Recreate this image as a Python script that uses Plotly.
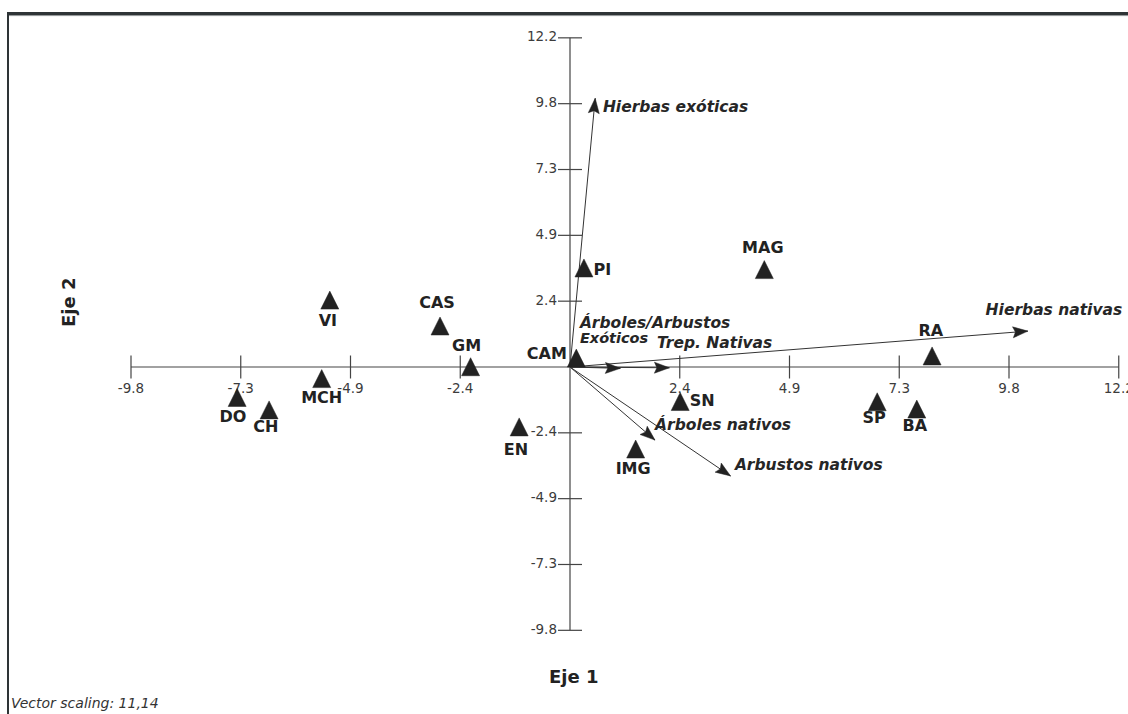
import math
import plotly.graph_objects as go

# ---------------- data ----------------
sample_names = ["PI", "MAG", "VI", "CAS", "GM", "CAM", "RA", "MCH", "DO", "CH",
                "EN", "IMG", "SN", "SP", "BA"]
sample_x = [0.31, 4.32, -5.34, -2.89, -2.21, 0.14, 8.05, -5.52, -7.40, -6.69,
            -1.13, 1.46, 2.45, 6.83, 7.71]
sample_y = [3.67, 3.61, 2.48, 1.52, 0.01, 0.33, 0.41, -0.43, -1.13, -1.59,
            -2.22, -3.04, -1.28, -1.29, -1.56]

vector_names = ["Hierbas exóticas", "Hierbas nativas", "Árboles/Arbustos Exóticos",
                "Trep. Nativas", "Árboles nativos", "Arbustos nativos"]
vector_x = [0.56, 10.18, 1.12, 2.21, 1.89, 3.57]
vector_y = [9.96, 1.33, -0.05, -0.03, -2.71, -4.04]

tick_values = [-9.76, -7.32, -4.88, -2.44, 2.44, 4.88, 7.32, 9.76, 12.2]
tick_labels = ["-9.8", "-7.3", "-4.9", "-2.4", "2.4", "4.9", "7.3", "9.8", "12.2"]

# ---------------- layout constants ----------------
W, H = 1128, 714
OX, OY = 570.0, 367.0          # pixel position of the origin
KX, KY = 44.98, 26.98          # pixels per unit


def dx(p):
    return p / KX


def dy(p):
    return p / KY


x_range = [-OX / KX, (W - OX) / KX]
y_range = [-(H - OY) / KY, OY / KY]

AXIS_COLOR = "#444444"
INK = "#222222"
FONT = "DejaVu Sans"

# label offsets in pixels (right, up) relative to the point
sample_label_offsets = {
    "PI": (18.5, -1), "MAG": (-1.5, 22.8), "VI": (-2, -20), "CAS": (-3, 24.3),
    "GM": (-4, 21.7), "CAM": (-29.5, 5), "RA": (-1.3, 25.3), "MCH": (0, -18.2),
    "DO": (-4.3, -18.2), "CH": (-3.3, -16.7), "EN": (-3.3, -22), "IMG": (-2.5, -19),
    "SN": (22, 1.5), "SP": (-3, -15.3), "BA": (-2, -16),
}
# vector label lines: (text, font size, (right, up) offset of text left edge from tip)
vector_label_lines = {
    "Hierbas exóticas": [("Hierbas exóticas", 15.5, (7.7, -7.7))],
    "Hierbas nativas": [("Hierbas nativas", 15.5, (-42.3, 22))],
    "Árboles/Arbustos Exóticos": [("Árboles/Arbustos", 15.5, (-40.5, 46.0)),
                                  ("Exóticos", 14.5, (-40.5, 30.5))],
    "Trep. Nativas": [("Trep. Nativas", 15.5, (-12.5, 25))],
    "Árboles nativos": [("Árboles nativos", 15.5, (0, 16))],
    "Arbustos nativos": [("Arbustos nativos", 15.5, (4.3, 12))],
}

fig = go.Figure()

# ---------------- crossing axes with tick marks ----------------
lo, hi = tick_values[0], tick_values[-1]
axx, axy = [lo, hi, None, 0, 0, None], [0, 0, None, lo, hi, None]
for t in tick_values:
    axx += [t, t, None]
    axy += [-dy(11.5), dy(11.5), None]
for t in tick_values:
    axx += [-dx(12), dx(12), None]
    axy += [t, t, None]
fig.add_trace(go.Scatter(x=axx, y=axy, mode="lines",
                         line=dict(color=AXIS_COLOR, width=1.2), hoverinfo="skip"))

# tick labels
fig.add_trace(go.Scatter(x=tick_values, y=[-dy(23)] * len(tick_values), mode="text",
                         text=tick_labels, textposition="middle center",
                         textfont=dict(family=FONT, size=13.5, color="#3c3c3c"),
                         hoverinfo="skip"))
fig.add_trace(go.Scatter(x=[-dx(13)] * len(tick_values), y=tick_values, mode="text",
                         text=tick_labels, textposition="middle left",
                         textfont=dict(family=FONT, size=13.5, color="#3c3c3c"),
                         hoverinfo="skip"))

# ---------------- vectors ----------------
lx, ly = [], []
hx, hy = [], []
HEAD_L, HEAD_W, NOTCH = 15.0, 5.5, 2.5
for vx, vy in zip(vector_x, vector_y):
    lx += [0, vx, None]
    ly += [0, vy, None]
    px, py = vx * KX, vy * KY
    n = math.hypot(px, py)
    ux, uy = px / n, py / n
    qx, qy = -uy, ux
    pts = [(0, 0),
           (-HEAD_L * ux + HEAD_W * qx, -HEAD_L * uy + HEAD_W * qy),
           (-(HEAD_L - NOTCH) * ux, -(HEAD_L - NOTCH) * uy),
           (-HEAD_L * ux - HEAD_W * qx, -HEAD_L * uy - HEAD_W * qy),
           (0, 0)]
    for a, b in pts:
        hx.append(vx + dx(a))
        hy.append(vy + dy(b))
    hx.append(None)
    hy.append(None)
fig.add_trace(go.Scatter(x=lx, y=ly, mode="lines", line=dict(color="#333333", width=1),
                         hoverinfo="skip"))
fig.add_trace(go.Scatter(x=hx, y=hy, mode="lines", fill="toself", fillcolor=INK,
                         line=dict(color=INK, width=0.5), hoverinfo="skip"))

# ---------------- sample triangles ----------------
tx, ty = [], []
HALF = 9.0
for sx, sy in zip(sample_x, sample_y):
    tx += [sx - dx(HALF), sx + dx(HALF), sx, sx - dx(HALF), None]
    ty += [sy - dy(HALF), sy - dy(HALF), sy + dy(HALF), sy - dy(HALF), None]
fig.add_trace(go.Scatter(x=tx, y=ty, mode="lines", fill="toself", fillcolor=INK,
                         line=dict(color=INK, width=0.5), hoverinfo="skip"))

# ---------------- sample labels ----------------
SL_SIZE = 16
corr = -0.115 * SL_SIZE
slx = [sx + dx(sample_label_offsets[n][0]) for n, sx in zip(sample_names, sample_x)]
sly = [sy + dy(sample_label_offsets[n][1] + corr) for n, sy in zip(sample_names, sample_y)]
fig.add_trace(go.Scatter(x=slx, y=sly, mode="text", text=sample_names,
                         textposition="middle center",
                         textfont=dict(family=FONT, size=SL_SIZE, color=INK, weight="bold"),
                         hoverinfo="skip"))

# ---------------- vector labels ----------------
for name, vx, vy in zip(vector_names, vector_x, vector_y):
    for txt, size, (ox, oy) in vector_label_lines[name]:
        fig.add_trace(go.Scatter(
            x=[vx + dx(ox)], y=[vy + dy(oy - 0.115 * size)], mode="text", text=[txt],
            textposition="middle right",
            textfont=dict(family=FONT, size=size, color="#262626", weight="bold",
                          style="italic"),
            hoverinfo="skip"))

# ---------------- frame, titles ----------------
shapes = [
    dict(type="line", xref="paper", yref="paper", x0=7 / W, x1=1, y0=1 - 13.5 / H,
         y1=1 - 13.5 / H, line=dict(color="#2e3436", width=3.2)),
    dict(type="line", xref="paper", yref="paper", x0=9 / W, x1=1, y0=1 - 15.6 / H,
         y1=1 - 15.6 / H, line=dict(color="#8c9091", width=1)),
    dict(type="line", xref="paper", yref="paper", x0=8 / W, x1=8 / W, y0=0,
         y1=1 - 12 / H, line=dict(color="#2e3436", width=2)),
]
annotations = [
    dict(text="Eje 1", xref="paper", yref="paper", x=573 / W, y=1 - 676 / H,
         showarrow=False, font=dict(family=FONT, size=18, color=INK, weight="bold"),
         xanchor="center", yanchor="middle"),
    dict(text="Eje 2", xref="paper", yref="paper", x=68 / W, y=1 - 303 / H,
         showarrow=False, textangle=-90,
         font=dict(family=FONT, size=18, color=INK, weight="bold"),
         xanchor="center", yanchor="middle"),
    dict(text="Vector scaling: 11,14", xref="paper", yref="paper", x=9 / W, y=1 - 703 / H,
         showarrow=False, font=dict(family=FONT, size=14, color="#333333", style="italic"),
         xanchor="left", yanchor="middle"),
]

fig.update_layout(
    width=W, height=H, autosize=False,
    margin=dict(l=0, r=0, t=0, b=0, pad=0),
    paper_bgcolor="white", plot_bgcolor="white",
    showlegend=False,
    xaxis=dict(range=x_range, visible=False, fixedrange=True),
    yaxis=dict(range=y_range, visible=False, fixedrange=True),
    shapes=shapes, annotations=annotations,
)

fig.write_html("out.html", config={"displayModeBar": False},
               post_script="document.body.style.margin='0';")
